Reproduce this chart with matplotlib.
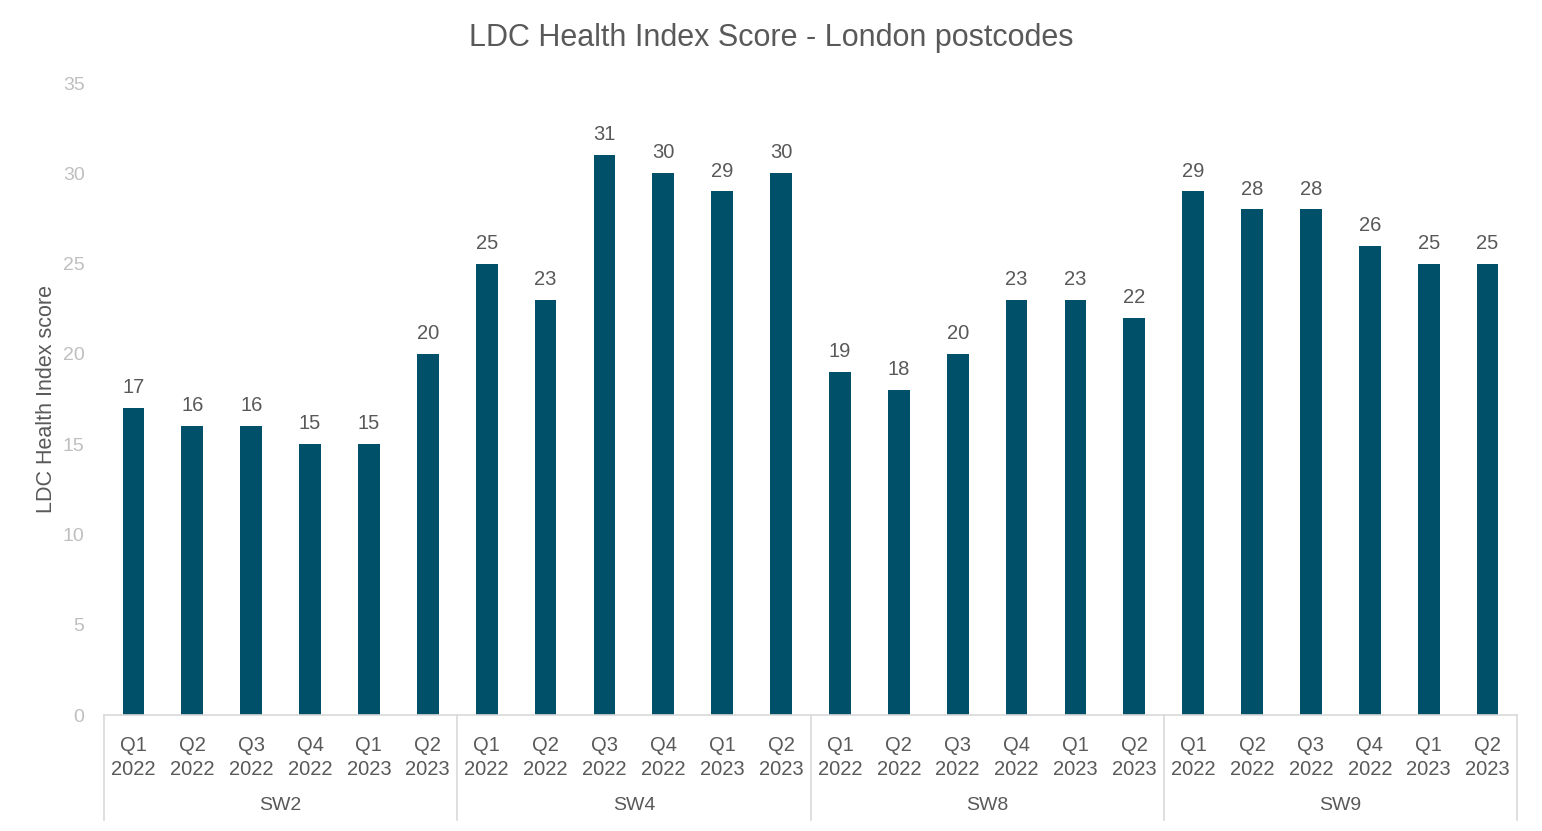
import matplotlib.pyplot as plt
import matplotlib.transforms as mtransforms

plt.rcParams['font.family'] = ['Liberation Sans', 'DejaVu Sans']

# Data
groups = ['SW2', 'SW4', 'SW8', 'SW9']
quarters = ['Q1\n2022', 'Q2\n2022', 'Q3\n2022', 'Q4\n2022', 'Q1\n2023', 'Q2\n2023']
sw2 = [17, 16, 16, 15, 15, 20]
sw4 = [25, 23, 31, 30, 29, 30]
sw8 = [19, 18, 20, 23, 23, 22]
sw9 = [29, 28, 28, 26, 25, 25]

values = sw2 + sw4 + sw8 + sw9
labels = quarters * len(groups)
x = list(range(len(values)))

bar_color = '#01506A'
text_color = '#595959'
grid_color = '#D9D9D9'

fig = plt.figure(figsize=(15.42, 8.31), dpi=100)
ax = fig.add_axes([104/1542, 1 - 715/831, (1517 - 104)/1542, (715 - 83)/831])

bars = ax.bar(x, values, width=0.37, color=bar_color)
for xi, v in zip(x, values):
    ax.text(xi, v + 0.6, str(v), ha='center', va='bottom', fontsize=14.5, color=text_color)

ax.set_xlim(-0.5, len(values) - 0.5)
ax.set_ylim(0, 35)
ax.set_yticks(range(0, 36, 5))
ax.tick_params(axis='y', length=0, labelsize=14, labelcolor='#BFBFBF', pad=14)
ax.set_xticks(x)
ax.set_xticklabels(labels, fontsize=14.5, color=text_color, linespacing=1.33)
ax.tick_params(axis='x', length=0, pad=15)

for s in ['left', 'right', 'top']:
    ax.spines[s].set_visible(False)
ax.spines['bottom'].set_color(grid_color)
ax.spines['bottom'].set_linewidth(1.2)

# group separators and labels
trans = mtransforms.blended_transform_factory(ax.transData, ax.transAxes)
n = len(quarters)
for g in range(len(groups) + 1):
    xs = g * n - 0.5
    ax.plot([xs, xs], [0, -(820 - 715)/632], color=grid_color, lw=1.2,
            transform=trans, clip_on=False)
for g, name in enumerate(groups):
    ax.text(g * n + (n - 1)/2, -(806 - 715)/632, name, transform=trans,
            ha='center', va='center', fontsize=14, color=text_color)

ax.set_ylabel('LDC Health Index score', fontsize=15.5, color=text_color, labelpad=4)
fig.text(0.5, 1 - 38/831, 'LDC Health Index Score - London postcodes', ha='center',
         va='center', fontsize=22, color=text_color)

fig.savefig('out.png', dpi=100)
